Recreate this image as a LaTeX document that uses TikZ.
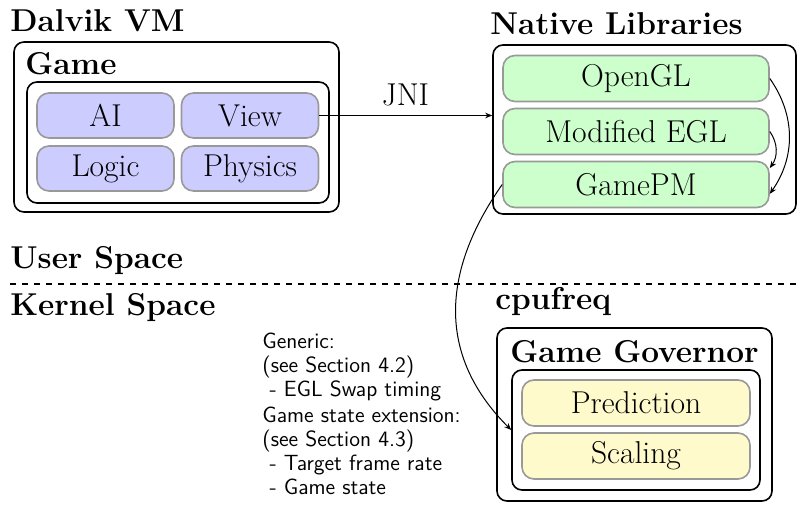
\documentclass[tikz,border=0pt]{standalone}
\usepackage{xcolor}
\usetikzlibrary{arrows.meta,positioning}
\definecolor{modblue}{HTML}{CCCCFF}
\definecolor{libgreen}{HTML}{CCFFCC}
\definecolor{govyellow}{HTML}{FFFACC}
\definecolor{edgegray}{HTML}{999999}
\newcommand{\labelsize}{\fontsize{15.8}{19}\selectfont}
\newcommand{\notesize}{\fontsize{11}{12}\selectfont}

\begin{document}
\begin{tikzpicture}[
  x=0.5pt, y=-0.5pt,
  >={Stealth[length=3.5pt,width=2.8pt]},
  frame/.style={rectangle, draw=black, thick, rounded corners=5pt, inner sep=0pt},
  part/.style={rectangle, draw=edgegray, thick, rounded corners=6pt, inner sep=0pt, font=\labelsize},
  title/.style={anchor=base west, inner sep=0pt, font=\labelsize\bfseries},
  notes/.style={anchor=north west, inner sep=0pt, align=left, font=\sffamily\notesize},
  flow/.style={->, draw=black, line width=0.5pt}
]
  \useasboundingbox (0,0) rectangle (797,508);

  % user space
  \node[title] (dalvikt) at (10,32) {Dalvik VM};
  \node[frame, minimum width=162.5pt, minimum height=85pt] (dalvik) at (176.5,127) {};
  \node[title] (gamet) at (25,75) {Game};
  \node[frame, minimum width=151pt, minimum height=60.5pt] (game) at (178,142.5) {};
  \node[part, fill=modblue, minimum width=68.5pt, minimum height=22.5pt] (ai) at (105.5,115.5) {AI};
  \node[part, fill=modblue, minimum width=68.5pt, minimum height=22.5pt] (view) at (250,115.5) {View};
  \node[part, fill=modblue, minimum width=68.5pt, minimum height=22.5pt] (logic) at (105.5,168.5) {Logic};
  \node[part, fill=modblue, minimum width=68.5pt, minimum height=22.5pt] (physics) at (250,168.5) {Physics};

  \node[title] (nativet) at (490,35) {Native Libraries};
  \node[frame, minimum width=151.5pt, minimum height=84.5pt] (native) at (644.5,129.5) {};
  \node[part, fill=libgreen, minimum width=133pt, minimum height=23pt] (opengl) at (636,78.5) {OpenGL};
  \node[part, fill=libgreen, minimum width=133pt, minimum height=23pt] (egl) at (636,131.5) {Modified EGL};
  \node[part, fill=libgreen, minimum width=133pt, minimum height=23pt] (gamepm) at (636,184.5) {GamePM};

  \node[font=\labelsize, anchor=base, inner sep=0pt] (jni) at (405.5,105) {JNI};

  % boundary
  \node[title] (usert) at (10,268) {User Space};
  \coordinate (divl) at (10,284);
  \coordinate (divr) at (797,284);
  \draw[thick, dashed] (divl) -- (divr);
  \node[title] (kernelt) at (10,315) {Kernel Space};

  % kernel space
  \node[title] (cpufreqt) at (495,309) {cpufreq};
  \node[frame, minimum width=137.5pt, minimum height=86.5pt] (gov) at (634.5,414.5) {};
  \node[title] (govt) at (510,362) {Game Governor};
  \node[frame, minimum width=124pt, minimum height=60pt] (govin) at (636,430) {};
  \node[part, fill=govyellow, minimum width=114pt, minimum height=23pt] (predict) at (636,403) {Prediction};
  \node[part, fill=govyellow, minimum width=114pt, minimum height=23pt] (scaling) at (636,456) {Scaling};

  \node[notes] (generic) at (262,333) {Generic:\\(see Section 4.2)\\\ - EGL Swap timing};
  \node[notes] (gamestate) at (262,407) {Game state extension:\\(see Section 4.3)\\\ - Target frame rate\\\ - Game state};

  \draw[flow] (view.east) -- (view.east -| native.west);
  \draw[flow] (opengl.east) to[bend left=35] (gamepm.-4);
  \draw[flow] (egl.east) to[bend left=35] (gamepm.7);
  \draw[flow] (gamepm.west) to[out=235, in=135, looseness=1.1] (govin.west);
\end{tikzpicture}
\end{document}
